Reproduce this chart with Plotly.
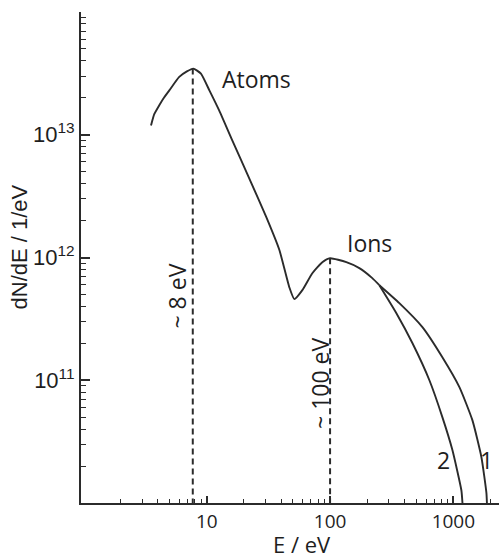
import plotly.graph_objects as go

# ---- data ----
# shared part of the spectrum (atoms peak + ion peak up to the split)
E_common = [3.53, 3.75, 4.12, 4.52, 4.97, 5.98, 6.9, 7.76, 8.97, 10.5, 12.6, 16.1, 22.1,
            30.4, 38.8, 46.7, 51.3, 59.6, 71.8, 86.5, 100, 135.5, 172.7, 220, 251]
N_common = [1.19e13, 1.47e13, 1.74e13, 2.02e13, 2.30e13, 2.96e13, 3.28e13, 3.46e13,
            3.15e13, 2.30e13, 1.58e13, 9.0e12, 4.42e12, 2.13e12, 1.15e12, 5.73e11,
            4.58e11, 5.42e11, 7.45e11, 9.16e11, 9.87e11, 9.16e11, 8.19e11, 6.79e11, 5.95e11]
# high-energy tail, curve 1
E_tail1 = [251, 364.6, 561, 814, 1119, 1426, 1687, 1853, 1871]
N_tail1 = [5.95e11, 4.25e11, 2.71e11, 1.54e11, 8.79e10, 4.73e10, 2.37e10, 1.21e10, 1e10]
# high-energy tail, curve 2
E_tail2 = [251, 345, 465, 639, 814, 982, 1161, 1185]
N_tail2 = [5.95e11, 3.52e11, 2.01e11, 1.00e11, 5.01e10, 2.70e10, 1.27e10, 1e10]

# peak markers (dashed lines)
peak_E = [7.7, 100]
peak_N = [3.46e13, 9.87e11]
N_floor = 1e10

x_ticks = [10, 100, 1000]
x_ticktext = ["10", "100", "1000"]
y_ticks = [1e11, 1e12, 1e13]
y_ticktext = ["10<sup>11</sup>", "10<sup>12</sup>", "10<sup>13</sup>"]

x_minor = [m * 10 ** d for d in range(0, 4) for m in range(2, 10)]
y_minor = [m * 10.0 ** d for d in range(10, 14) for m in range(2, 10)]

LINE = "#2b2b2b"
TXT = "#1e1e1e"
NOGRID = "rgba(0,0,0,0)"

fig = go.Figure()
curve_style = dict(color=LINE, width=1.9, shape="spline", smoothing=0.5)
fig.add_trace(go.Scatter(x=E_common, y=N_common, mode="lines", line=curve_style,
                         showlegend=False))
fig.add_trace(go.Scatter(x=E_tail1, y=N_tail1, mode="lines", line=curve_style,
                         showlegend=False))
fig.add_trace(go.Scatter(x=E_tail2, y=N_tail2, mode="lines", line=curve_style,
                         showlegend=False))
for e, n in zip(peak_E, peak_N):
    fig.add_trace(go.Scatter(x=[e, e], y=[n, N_floor], mode="lines",
                             line=dict(color=LINE, width=2, dash="6px,4px"),
                             showlegend=False))

ann_font = dict(family="Open Sans", size=23, color=TXT)
annotations = [
    dict(text="Atoms", x=0.4187, y=0.8635, font=ann_font),
    dict(text="Ions", x=0.689, y=0.5295, font=ann_font),
    dict(text="~ 8 eV", x=0.2285, y=0.4216, font=ann_font, textangle=-90),
    dict(text="~ 100 eV", x=0.5718, y=0.2424, font=ann_font, textangle=-90),
    dict(text="2", x=0.8684, y=0.0876, font=ann_font),
    dict(text="1", x=0.9689, y=0.0876, font=ann_font),
    dict(text="E / eV", x=0.5287, y=-0.083, font=dict(family="Open Sans", size=22, color=TXT)),
    dict(text="dN/dE / 1/eV", x=-0.146, y=0.5224, textangle=-90,
         font=dict(family="Liberation Sans", size=22, color=TXT)),
]
for a in annotations:
    a.update(xref="paper", yref="paper", showarrow=False, xanchor="center", yanchor="middle")

fig.update_layout(
    width=499, height=558,
    margin=dict(l=81, r=0, t=12, b=55),
    paper_bgcolor="white", plot_bgcolor="white",
    annotations=annotations,
    xaxis=dict(type="log", range=[-0.02, 3.37],
               showgrid=True, gridcolor=NOGRID,
               showline=True, linecolor=LINE, linewidth=2,
               tickmode="array", tickvals=x_ticks, ticktext=x_ticktext,
               ticks="inside", ticklen=7, tickwidth=2, tickcolor=LINE,
               tickfont=dict(family="Open Sans", size=19, color=TXT),
               minor=dict(tickmode="array", tickvals=x_minor, ticks="inside", ticklen=4,
                          tickwidth=1, tickcolor=LINE, showgrid=True, gridcolor=NOGRID)),
    yaxis=dict(type="log", range=[10, 14],
               showgrid=True, gridcolor=NOGRID,
               showline=True, linecolor=LINE, linewidth=2,
               tickmode="array", tickvals=y_ticks, ticktext=y_ticktext,
               ticks="inside", ticklen=9, tickwidth=2, tickcolor=LINE,
               tickfont=dict(family="Liberation Sans", size=22, color=TXT),
               minor=dict(tickmode="array", tickvals=y_minor, ticks="inside", ticklen=5,
                          tickwidth=1, tickcolor=LINE, showgrid=True, gridcolor=NOGRID)),
)

fig.write_html("out.html")
